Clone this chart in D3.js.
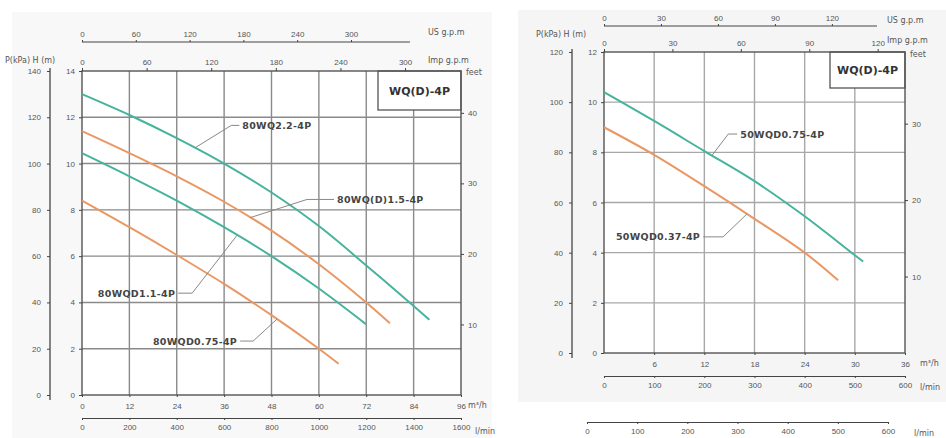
<!DOCTYPE html>
<html>
<head>
<meta charset="utf-8">
<script src="https://cdn.jsdelivr.net/npm/d3@7"></script>
<style>
  body { margin: 0; background: #fff; }
  svg { display: block; font-family: "DejaVu Sans", sans-serif; }
  .tick text { fill: #555; font-size: 8px; }
  .tick line, .domain { stroke: #444; }
  .unit { fill: #555; font-size: 8px; }
  .curve-label { fill: #444; font-size: 9.5px; font-weight: bold; letter-spacing: 0.3px; }
</style>
</head>
<body>
<svg id="chart" width="946" height="438"></svg>
<script>
// ---- data (flow in m3/h, head in m) ----
const flowTicksLeft = [0, 12, 24, 36, 48, 60, 72, 84, 96];
const lminTicksLeft = [0, 200, 400, 600, 800, 1000, 1200, 1400, 1600];
const usTicksLeft = [0, 60, 120, 180, 240, 300];
const impTicksLeft = [0, 60, 120, 180, 240, 300];
const kpaTicksLeft = [0, 20, 40, 60, 80, 100, 120, 140];
const headTicksLeft = [0, 2, 4, 6, 8, 10, 12, 14];
const feetTicksLeft = [10, 20, 30, 40];

const flowTicksRight = [6, 12, 18, 24, 30, 36];
const lminTicksRight = [0, 100, 200, 300, 400, 500, 600];
const usTicksRight = [0, 30, 60, 90, 120];
const impTicksRight = [0, 30, 60, 90, 120];
const kpaTicksRight = [0, 20, 40, 60, 80, 100, 120];
const headTicksRight = [0, 2, 4, 6, 8, 10, 12];
const feetTicksRight = [10, 20, 30];

const q80wq22 = [[0, 13.0], [12, 12.1], [24, 11.1], [36, 10.0], [48, 8.75], [60, 7.3], [72, 5.6], [84, 3.85], [88, 3.25]];
const q80wq15 = [[0, 11.4], [12, 10.45], [24, 9.45], [36, 8.35], [48, 7.1], [60, 5.65], [72, 4.0], [78, 3.1]];
const q80wq11 = [[0, 10.45], [12, 9.45], [24, 8.4], [36, 7.25], [48, 6.0], [60, 4.6], [72, 3.05]];
const q80wq075 = [[0, 8.4], [12, 7.25], [24, 6.05], [36, 4.8], [48, 3.45], [60, 2.0], [65, 1.35]];

const q50wq075 = [[0, 10.4], [6, 9.25], [12, 8.05], [18, 6.85], [24, 5.45], [30, 3.9], [31, 3.65]];
const q50wq037 = [[0, 9.0], [6, 7.9], [12, 6.65], [18, 5.35], [24, 4.0], [28, 2.9]];

const teal = "#46b39d";
const orange = "#e99864";

const M3H_TO_USGPM = 4.4029;
const M3H_TO_IMPGPM = 3.6662;
const M3H_TO_LMIN = 16.667;
const M_TO_FT = 3.2808;

const svg = d3.select("#chart");
const fmt = d3.format("d");

// faint panel backgrounds
svg.append("rect").attr("x", 12).attr("y", 12).attr("width", 480).attr("height", 426).attr("fill", "#f8f8f8");
svg.append("rect").attr("x", 518).attr("y", 10).attr("width", 428).attr("height", 392).attr("fill", "#f5f5f5");

function interp(series, q) {
  for (let i = 1; i < series.length; i++) {
    if (q <= series[i][0]) {
      const a = series[i - 1], b = series[i];
      return a[1] + (b[1] - a[1]) * (q - a[0]) / (b[0] - a[0]);
    }
  }
  return series[series.length - 1][1];
}

function drawPanel(cfg) {
  const g = svg.append("g");
  const x = d3.scaleLinear().domain([0, cfg.qMax]).range([cfg.left, cfg.right]);
  const y = d3.scaleLinear().domain([0, cfg.hMax]).range([cfg.bottom, cfg.top]);

  // plot background
  g.append("rect").attr("x", cfg.left).attr("y", cfg.top)
    .attr("width", cfg.right - cfg.left).attr("height", cfg.bottom - cfg.top)
    .attr("fill", "#fff");

  // grid
  g.append("g").selectAll("line").data(cfg.flowGrid).join("line")
    .attr("x1", d => x(d)).attr("x2", d => x(d))
    .attr("y1", cfg.top).attr("y2", cfg.bottom)
    .attr("stroke", cfg.gridColor).attr("stroke-width", 1.4);
  g.append("g").selectAll("line").data(cfg.headGrid).join("line")
    .attr("y1", d => y(d)).attr("y2", d => y(d))
    .attr("x1", cfg.left).attr("x2", cfg.right)
    .attr("stroke", cfg.gridColor).attr("stroke-width", 1.4);

  // title box
  const bw = cfg.boxW, bh = cfg.boxH;
  g.append("rect").attr("x", cfg.right - bw).attr("y", cfg.top)
    .attr("width", bw).attr("height", bh)
    .attr("fill", "#fff").attr("stroke", "#555").attr("stroke-width", 1.3);
  g.append("text").attr("x", cfg.right - bw / 2).attr("y", cfg.top + bh / 2 + 4)
    .attr("text-anchor", "middle").attr("font-size", 11).attr("font-weight", "bold")
    .attr("fill", "#333").text("WQ(D)-4P");

  // frame
  g.append("rect").attr("x", cfg.left).attr("y", cfg.top)
    .attr("width", cfg.right - cfg.left).attr("height", cfg.bottom - cfg.top)
    .attr("fill", "none").attr("stroke", "#555").attr("stroke-width", 1.4);

  // curves
  const line = d3.line().x(d => x(d[0])).y(d => y(d[1])).curve(d3.curveCatmullRom.alpha(0.5));
  cfg.series.forEach(s => {
    g.append("path").datum(s.data).attr("d", line)
      .attr("fill", "none").attr("stroke", s.color).attr("stroke-width", 2);
  });

  // curve labels with leader lines
  cfg.labels.forEach(l => {
    const tx = x(l.q), ty = y(l.h);
    const sign = l.side === "left" ? -1 : 1;
    const tq = l.target, th = interp(l.series, tq);
    g.append("polyline")
      .attr("points", [[tx + sign * 3, ty], [tx + sign * l.elbow, ty], [x(tq), y(th)]].map(p => p.join(",")).join(" "))
      .attr("fill", "none").attr("stroke", "#888").attr("stroke-width", 1);
    g.append("text").attr("class", "curve-label")
      .attr("x", tx).attr("y", ty + 3.5)
      .attr("text-anchor", l.side === "left" ? "start" : "end")
      .text(l.text);
  });

  // left kPa axis
  const yk = d3.scaleLinear().domain([0, cfg.hMax * 10]).range([cfg.bottom, cfg.top]);
  g.append("g").attr("transform", `translate(${cfg.kpaX},0)`)
    .call(d3.axisLeft(yk).tickValues(cfg.kpaTicks).tickFormat(fmt).tickSize(3).tickPadding(6))
    .call(a => a.select(".domain").attr("d", `M0,${cfg.top - 3}V${cfg.bottom + 5}`).attr("stroke-width", 1.3));

  // H axis
  g.append("g").attr("transform", `translate(${cfg.left},0)`)
    .call(d3.axisLeft(y).tickValues(cfg.headTicks).tickFormat(fmt).tickSize(3).tickPadding(4))
    .call(a => a.select(".domain").remove());

  // feet axis
  const yf = d3.scaleLinear().domain([0, cfg.hMax * M_TO_FT]).range([cfg.bottom, cfg.top]);
  g.append("g").attr("transform", `translate(${cfg.right},0)`)
    .call(d3.axisRight(yf).tickValues(cfg.feetTicks).tickFormat(fmt).tickSize(3).tickPadding(4))
    .call(a => a.select(".domain").remove());

  // m3/h labels
  g.append("g").attr("transform", `translate(0,${cfg.bottom})`)
    .call(d3.axisBottom(x).tickValues(cfg.flowTicks).tickFormat(fmt).tickSize(2).tickPadding(6))
    .call(a => a.select(".domain").remove());

  // l/min axis
  const xl = d3.scaleLinear().domain([0, cfg.qMax * M3H_TO_LMIN]).range([cfg.left, cfg.right]);
  g.append("g").attr("transform", `translate(0,${cfg.lminY})`)
    .call(d3.axisBottom(xl).tickValues(cfg.lminTicks).tickFormat(fmt).tickSize(2).tickSizeOuter(0).tickPadding(4));

  // US gpm axis (above)
  const xu = d3.scaleLinear().domain([0, cfg.qMax * M3H_TO_USGPM]).range([cfg.left, cfg.right]);
  g.append("g").attr("transform", `translate(0,${cfg.usY})`)
    .call(d3.axisTop(xu).tickValues(cfg.usTicks).tickFormat(fmt).tickSize(2).tickSizeOuter(0).tickPadding(3))
    .call(a => a.select(".domain").attr("d", `M${cfg.left},0H${cfg.usEnd}`));

  // Imp gpm axis (on plot top)
  const xi = d3.scaleLinear().domain([0, cfg.qMax * M3H_TO_IMPGPM]).range([cfg.left, cfg.right]);
  g.append("g").attr("transform", `translate(0,${cfg.top})`)
    .call(d3.axisTop(xi).tickValues(cfg.impTicks).tickFormat(fmt).tickSize(3).tickPadding(3))
    .call(a => a.select(".domain").remove());

  // unit labels
  cfg.units.forEach(d => g.append("text").attr("class", "unit")
    .attr("x", d[0]).attr("y", d[1]).attr("font-size", d[3] || null).text(d[2]));
  return { x, y, g };
}

drawPanel({
  left: 82, right: 461, top: 71, bottom: 395,
  qMax: 96, hMax: 14,
  kpaX: 50, lminY: 418, usY: 42, usEnd: 410,
  boxW: 83, boxH: 39,
  gridColor: "#8a8a8a",
  flowGrid: flowTicksLeft.slice(1, -1), headGrid: headTicksLeft.slice(1, -1),
  flowTicks: flowTicksLeft, lminTicks: lminTicksLeft, usTicks: usTicksLeft,
  impTicks: impTicksLeft, kpaTicks: kpaTicksLeft, headTicks: headTicksLeft, feetTicks: feetTicksLeft,
  series: [
    { data: q80wq22, color: teal },
    { data: q80wq15, color: orange },
    { data: q80wq11, color: teal },
    { data: q80wq075, color: orange }
  ],
  labels: [
    { text: "80WQ2.2-4P", series: q80wq22, q: 40.6, h: 11.65, side: "left", elbow: 11, target: 28.6 },
    { text: "80WQ(D)1.5-4P", series: q80wq15, q: 64.6, h: 8.45, side: "left", elbow: 30, target: 42.6 },
    { text: "80WQD1.1-4P", series: q80wq11, q: 23.6, h: 4.4, side: "right", elbow: 17, target: 39.3 },
    { text: "80WQD0.75-4P", series: q80wq075, q: 39.3, h: 2.33, side: "right", elbow: 16, target: 49.4 }
  ],
  units: [[5, 63, "P(kPa)  H (m)"], [428, 35, "US g.p.m"], [428, 63, "Imp g.p.m"], [466, 75, "feet"], [468, 408, "m\u00b3/h"], [475, 434, "l/min"]]
});

drawPanel({
  left: 604, right: 905, top: 52, bottom: 353,
  qMax: 36, hMax: 12,
  kpaX: 572, lminY: 376, usY: 26, usEnd: 877,
  boxW: 75, boxH: 36,
  gridColor: "#a8a8a8",
  flowGrid: flowTicksRight.slice(0, -1), headGrid: headTicksRight.slice(1, -1),
  flowTicks: flowTicksRight, lminTicks: lminTicksRight, usTicks: usTicksRight,
  impTicks: impTicksRight, kpaTicks: kpaTicksRight, headTicks: headTicksRight, feetTicks: feetTicksRight,
  series: [
    { data: q50wq075, color: teal },
    { data: q50wq037, color: orange }
  ],
  labels: [
    { text: "50WQD0.75-4P", series: q50wq075, q: 16.3, h: 8.73, side: "left", elbow: 12, target: 12.9 },
    { text: "50WQD0.37-4P", series: q50wq037, q: 11.5, h: 4.63, side: "right", elbow: 23, target: 17.1 }
  ],
  units: [[536, 37, "P(kPa)  H (m)", "7px"], [887, 23, "US g.p.m", "9px"], [887, 43, "Imp g.p.m"], [910, 57, "feet"], [920, 366, "m\u00b3/h"], [920, 390, "l/min"]]
});

// stray duplicate l/min scale under the right panel
const xl2 = d3.scaleLinear().domain([0, 600]).range([587, 888]);
svg.append("g").attr("transform", "translate(0,422)")
  .call(d3.axisBottom(xl2).tickValues(lminTicksRight).tickFormat(fmt).tickSize(2).tickSizeOuter(0).tickPadding(4));
svg.append("text").attr("class", "unit").attr("x", 914).attr("y", 436).text("l/min");
</script>
</body>
</html>
